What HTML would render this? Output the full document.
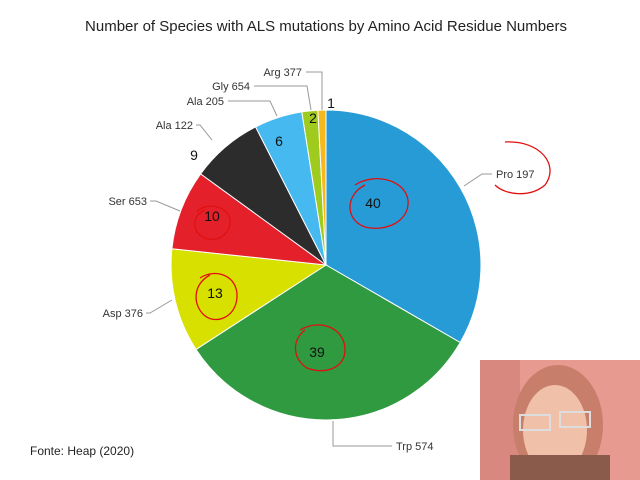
<!DOCTYPE html>
<html><head><meta charset="utf-8"><style>
body{margin:0;width:640px;height:480px;background:#fff;overflow:hidden;font-family:"Liberation Sans",sans-serif;position:relative}
</style></head><body>
<svg width="640" height="480" style="position:absolute;left:0;top:0" font-family="Liberation Sans, sans-serif">
<text x="326" y="31" text-anchor="middle" font-size="15" fill="#222">Number of Species with ALS mutations by Amino Acid Residue Numbers</text>
<g stroke="#fff" stroke-width="1">
<path d="M326,265 L326,110 A155,155 0 0 1 460.2,342.5 Z" fill="#279bd6"/>
<path d="M326,265 L460.2,342.5 A155,155 0 0 1 196,349.4 Z" fill="#2f9a40"/>
<path d="M326,265 L196,349.4 A155,155 0 0 1 171.9,248.8 Z" fill="#d8e000"/>
<path d="M326,265 L171.9,248.8 A155,155 0 0 1 200.6,173.9 Z" fill="#e4202a"/>
<path d="M326,265 L200.6,173.9 A155,155 0 0 1 255.6,126.9 Z" fill="#2c2c2c"/>
<path d="M326,265 L255.6,126.9 A155,155 0 0 1 301.8,111.9 Z" fill="#45b9f0"/>
<path d="M326,265 L301.8,111.9 A155,155 0 0 1 317.9,110.2 Z" fill="#9fcb1f"/>
<path d="M326,265 L317.9,110.2 A155,155 0 0 1 326,110 Z" fill="#f6b81c"/>
</g>
<g fill="none" stroke="#999" stroke-width="1">
<polyline points="464,186 482,174 492,174"/>
<polyline points="333,421 333,446 392,446"/>
<polyline points="172,300 150,313 146,313"/>
<polyline points="180,211 156,201 150,201"/>
<polyline points="212,140 200,125 196,125"/>
<polyline points="277,116 270,101 228,101"/>
<polyline points="311,110 307,86 254,86"/>
<polyline points="322,110 322,72 306,72"/>
</g>
<g font-size="11" fill="#333">
<text x="496" y="178">Pro 197</text>
<text x="396" y="450">Trp 574</text>
<text x="143" y="317" text-anchor="end">Asp 376</text>
<text x="147" y="205" text-anchor="end">Ser 653</text>
<text x="193" y="129" text-anchor="end">Ala 122</text>
<text x="224" y="105" text-anchor="end">Ala 205</text>
<text x="250" y="90" text-anchor="end">Gly 654</text>
<text x="302" y="76" text-anchor="end">Arg 377</text>
</g>
<g font-size="14" fill="#111" text-anchor="middle">
<text x="373" y="208">40</text>
<text x="317" y="357">39</text>
<text x="215" y="298">13</text>
<text x="212" y="221">10</text>
<text x="194" y="160">9</text>
<text x="279" y="146">6</text>
<text x="313" y="123">2</text>
<text x="331" y="108">1</text>
</g>
<g fill="none" stroke="#e01010" stroke-width="1.3">
<path d="M505,142 C540,140 560,165 545,185 C530,198 505,195 495,185"/>
<path d="M355,185 C375,172 405,180 408,200 C410,222 385,232 365,227 C345,220 345,195 365,185"/>
<path d="M300,330 C320,318 345,328 345,350 C345,368 325,375 307,368 C292,358 292,340 305,330"/>
<path d="M200,278 C215,268 238,275 237,297 C236,318 215,325 204,315 C193,305 192,285 210,275"/>
<path d="M197,212 C205,202 228,205 230,220 C231,237 212,245 200,235 C192,228 193,215 205,210"/>
</g>
<text x="30" y="455" font-size="12" fill="#222">Fonte: Heap (2020)</text>
<rect x="480" y="360" width="160" height="120" fill="#e79a90"/>
<rect x="480" y="360" width="40" height="120" fill="#d8887e"/>
<ellipse cx="558" cy="425" rx="45" ry="60" fill="#c77f6c"/>
<ellipse cx="555" cy="430" rx="32" ry="45" fill="#f0c0a8"/>
<rect x="510" y="455" width="100" height="25" fill="#8a5a4a"/>
<path d="M520 415 h30 v15 h-30z M560 412 h30 v15 h-30z" fill="none" stroke="#ddd" stroke-width="2"/>
</svg>
</body></html>
